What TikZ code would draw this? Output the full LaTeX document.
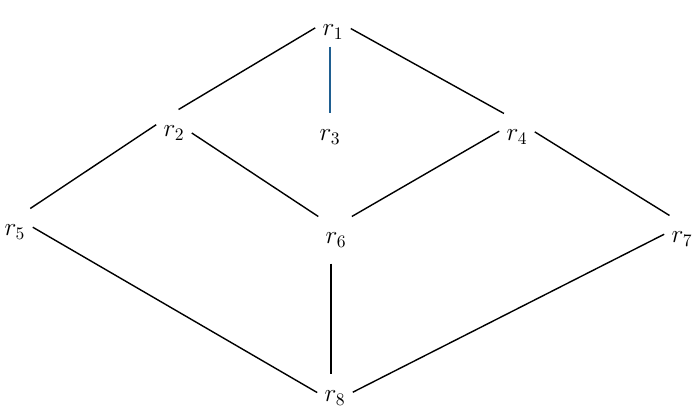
\documentclass[tikz,border=0pt]{standalone}
\usepackage{tikz}
\definecolor{linkblue}{RGB}{31,95,145}
\tikzset{
	vtx/.style={rectangle, inner xsep=4pt, inner ysep=9pt, font=\Large},
	edge/.style={line width=0.8pt}
}

\begin{document}
\begin{tikzpicture}
		%%%%% START %%%%%
		
		\useasboundingbox (0, 0) rectangle (14, 8.4);
		
		\node[vtx, inner ysep=4pt] (r1) at (6.66, 7.76) {$r_1$};
		\node[vtx] (r2) at (3.48, 5.74) {$r_2$};
		\node[vtx] (r3) at (6.60, 5.66) {$r_3$};
		\node[vtx] (r4) at (10.34, 5.66) {$r_4$};
		\node[vtx] (r5) at (0.30, 3.76) {$r_5$};
		\node[vtx] (r6) at (6.72, 3.60) {$r_6$};
		\node[vtx] (r7) at (13.64, 3.62) {$r_7$};
		\node[vtx] (r8) at (6.70, 0.44) {$r_8$};
		
		\draw[edge] (r1.167) -- (r2.79);
		\draw[edge] (r1.11) -- (r4.119);
		\draw[edge, color=linkblue] (r3.north |- r1.south) -- (r3.north);
		
		\draw[edge] (r2.155) -- (r5.57);
		\draw[edge] (r2.0) -- (r6.127);
		\draw[edge] (r4.162) -- (r6.56);
		\draw[edge] (r4.16) -- (r7.118);
		
		\draw[edge] (r5.15) -- (r8.163);
		\draw[edge] (r8.100 |- r6.south) -- (r8.100);
		\draw[edge] (r7.165) -- (r8.18);
		
		%%%%% END %%%%%
	\end{tikzpicture}
\end{document}
